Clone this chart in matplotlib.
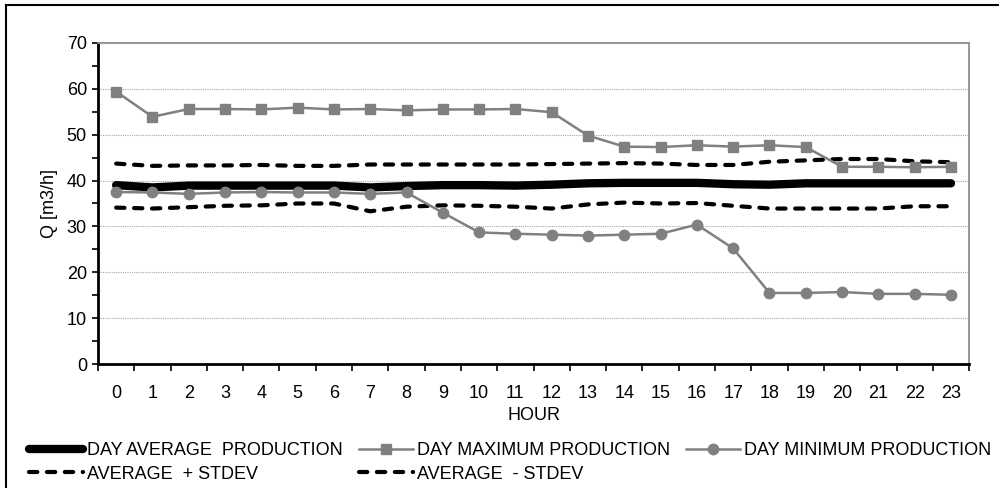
import matplotlib
matplotlib.use("Agg")
import matplotlib.pyplot as plt
from matplotlib.lines import Line2D
from matplotlib.ticker import MultipleLocator

plt.rcParams["font.family"] = ["Liberation Sans", "DejaVu Sans"]

# hourly values [m3/h]
hours = list(range(24))
avg = [39.0, 38.5, 38.9, 38.9, 38.9, 38.9, 38.9, 38.5, 38.8, 39.0, 39.0, 38.9,
       39.1, 39.4, 39.5, 39.5, 39.5, 39.2, 39.1, 39.4, 39.4, 39.4, 39.4, 39.4]
day_max = [59.4, 53.9, 55.6, 55.6, 55.5, 55.9, 55.5, 55.6, 55.3, 55.5, 55.5, 55.6,
           54.9, 49.8, 47.4, 47.3, 47.7, 47.4, 47.7, 47.3, 43.0, 43.0, 42.9, 43.0]
day_min = [37.5, 37.4, 37.1, 37.4, 37.5, 37.4, 37.4, 37.1, 37.4, 33.0, 28.7, 28.4,
           28.2, 28.0, 28.2, 28.4, 30.4, 25.2, 15.5, 15.5, 15.7, 15.3, 15.3, 15.1]
avg_plus = [43.7, 43.2, 43.3, 43.3, 43.4, 43.2, 43.2, 43.5, 43.5, 43.5, 43.5, 43.5,
            43.6, 43.7, 43.8, 43.7, 43.4, 43.4, 44.1, 44.4, 44.7, 44.7, 44.2, 44.0]
avg_minus = [34.1, 33.9, 34.2, 34.5, 34.6, 35.0, 35.0, 33.3, 34.3, 34.6, 34.5, 34.3,
             33.9, 34.8, 35.2, 35.0, 35.1, 34.5, 33.9, 33.9, 33.9, 33.9, 34.4, 34.4]

GREY = "#808080"
FS = 13

fig = plt.figure(figsize=(9.99, 4.88), dpi=100)
ax = fig.add_axes([0.0981, 0.254, 0.872, 0.658])

dash = dict(color="black", lw=3.0, ls=(0, (2.0, 2.3)), dash_capstyle="round")
l_plus, = ax.plot(hours, avg_plus, **dash, zorder=3)
l_minus, = ax.plot(hours, avg_minus, **dash, zorder=3)
l_max, = ax.plot(hours, day_max, color=GREY, lw=1.8, marker="s", ms=6.5,
                 mec=GREY, mfc=GREY, zorder=4)
l_avg, = ax.plot(hours, avg, color="black", lw=6.0, solid_capstyle="round", zorder=5)
l_min, = ax.plot(hours, day_min, color=GREY, lw=1.8, marker="o", ms=7.5,
                 mec=GREY, mfc=GREY, zorder=6)

ax.set_xlim(-0.5, 23.5)
ax.set_ylim(0, 70)
ax.set_xticks([h - 0.5 for h in hours] + [23.5])
ax.set_xticklabels([])
ax.set_xticks(hours, minor=True)
ax.set_xticklabels([str(h) for h in hours], minor=True)
ax.tick_params(axis="x", which="major", direction="out", length=5, width=1.2, color="black")
ax.tick_params(axis="x", which="minor", length=0, labelsize=FS, pad=15)
ax.yaxis.set_major_locator(MultipleLocator(10))
ax.yaxis.set_minor_locator(MultipleLocator(5))
ax.tick_params(axis="y", which="both", direction="out", length=4, width=1.2,
               labelsize=FS, pad=4)
ax.grid(axis="y", which="major", color="#a8a8a8", ls=(0, (1, 1)), lw=0.8)
ax.set_axisbelow(True)

for s in ["left", "bottom"]:
    ax.spines[s].set_color("black")
    ax.spines[s].set_linewidth(2)
for s in ["right", "top"]:
    ax.spines[s].set_color("#909090")
    ax.spines[s].set_linewidth(1.3)

ax.set_xlabel("HOUR", fontsize=FS, labelpad=4)
ax.set_ylabel("Q [m3/h]", fontsize=FS, labelpad=6)

handles = [l_avg, l_plus, l_max, l_minus, l_min]
labels = ["DAY AVERAGE  PRODUCTION", "AVERAGE  + STDEV", "DAY MAXIMUM PRODUCTION",
          "AVERAGE  - STDEV", "DAY MINIMUM PRODUCTION"]
fig.legend(handles, labels, ncol=3, loc="upper left", bbox_to_anchor=(0.029, 0.094),
           frameon=False, fontsize=FS, handlelength=3.0, handletextpad=0.2,
           columnspacing=0.9, labelspacing=0.37, borderaxespad=0.0, borderpad=0.0)

# outer border (top and left edges visible)
fig.add_artist(Line2D([0.006, 1.0], [0.990, 0.990], color="black", lw=1.5,
                      transform=fig.transFigure))
fig.add_artist(Line2D([0.006, 0.006], [0.0, 0.990], color="black", lw=1.5,
                      transform=fig.transFigure))

fig.savefig("out.png", dpi=100)
